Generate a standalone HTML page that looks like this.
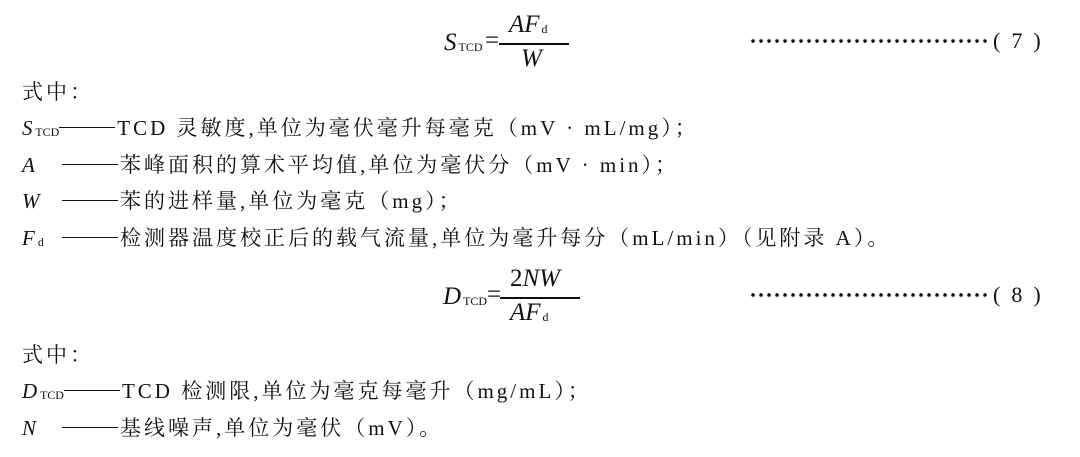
<!DOCTYPE html>
<html><head><meta charset="utf-8"><style>
html,body{margin:0;padding:0;background:#fff;}
body{width:1080px;height:457px;position:relative;overflow:hidden;font-family:"Liberation Serif","Noto Serif CJK SC",serif;font-size:21px;color:#111;}
.a{position:absolute;white-space:nowrap;line-height:26px;letter-spacing:3px;}
.l{letter-spacing:3px;}
i{font-style:italic;letter-spacing:0;}
sub{font-size:12px;vertical-align:-1px;font-style:normal;letter-spacing:0;}
.bar{position:absolute;height:1.5px;background:#111;}
.f{position:absolute;white-space:nowrap;font-size:25px;line-height:30px;}
.f sub{font-size:12px;margin-left:2px;}
.p{position:absolute;white-space:nowrap;font-size:22px;}
.dash{display:inline-block;width:56px;height:1.5px;background:#111;vertical-align:7px;margin-right:2px;}
.dots{position:absolute;width:240px;height:6px;background:radial-gradient(circle at 2px 3px,#111 1.6px,transparent 2px) 0 0/8px 6px repeat-x;}
</style></head><body>
<div class="f" style="left:444px;top:28px"><i>S</i><sub>TCD</sub></div>
<div class="f" style="left:485px;top:26px">=</div>
<div class="f" style="left:509px;top:10px"><i>AF</i><sub>d</sub></div>
<div class="bar" style="left:499px;top:43px;width:70px"></div>
<div class="f" style="left:521px;top:44px"><i>W</i></div>
<div class="dots" style="left:751px;top:38px"></div>
<div class="p" style="left:993px;top:28px">(&nbsp;&nbsp;7&nbsp;&nbsp;)</div>

<div class="a" style="left:22px;top:79px">式中：</div>
<div class="a" style="left:22px;top:115px"><i>S</i><sub> TCD</sub><span class="dash"></span><span class="l">TCD</span> 灵敏度,单位为毫伏毫升每毫克（<span class="l">mV · mL/mg</span>）；</div>
<div class="a" style="left:22px;top:152px"><i>A</i></div>
<div class="a" style="left:62px;top:152px"><span class="dash"></span>苯峰面积的算术平均值,单位为毫伏分（<span class="l">mV · min</span>）；</div>
<div class="a" style="left:22px;top:188px"><i>W</i></div>
<div class="a" style="left:62px;top:188px"><span class="dash"></span>苯的进样量,单位为毫克（<span class="l">mg</span>）；</div>
<div class="a" style="left:22px;top:225px"><i>F</i><sub> d</sub></div>
<div class="a" style="left:62px;top:225px"><span class="dash"></span>检测器温度校正后的载气流量,单位为毫升每分（<span class="l">mL/min</span>）（见附录 A）。</div>

<div class="f" style="left:443px;top:282px"><i>D</i><sub>TCD</sub></div>
<div class="f" style="left:487px;top:280px">=</div>
<div class="f" style="left:510px;top:264px">2<i>NW</i></div>
<div class="bar" style="left:500px;top:297px;width:80px"></div>
<div class="f" style="left:510px;top:298px"><i>AF</i><sub>d</sub></div>
<div class="dots" style="left:751px;top:292px"></div>
<div class="p" style="left:993px;top:282px">(&nbsp;&nbsp;8&nbsp;&nbsp;)</div>

<div class="a" style="left:22px;top:342px">式中：</div>
<div class="a" style="left:22px;top:378px"><i>D</i><sub> TCD</sub><span class="dash"></span><span class="l">TCD</span> 检测限,单位为毫克每毫升（<span class="l">mg/mL</span>）；</div>
<div class="a" style="left:22px;top:415px"><i>N</i></div>
<div class="a" style="left:62px;top:415px"><span class="dash"></span>基线噪声,单位为毫伏（<span class="l">mV</span>）。</div>
</body></html>
